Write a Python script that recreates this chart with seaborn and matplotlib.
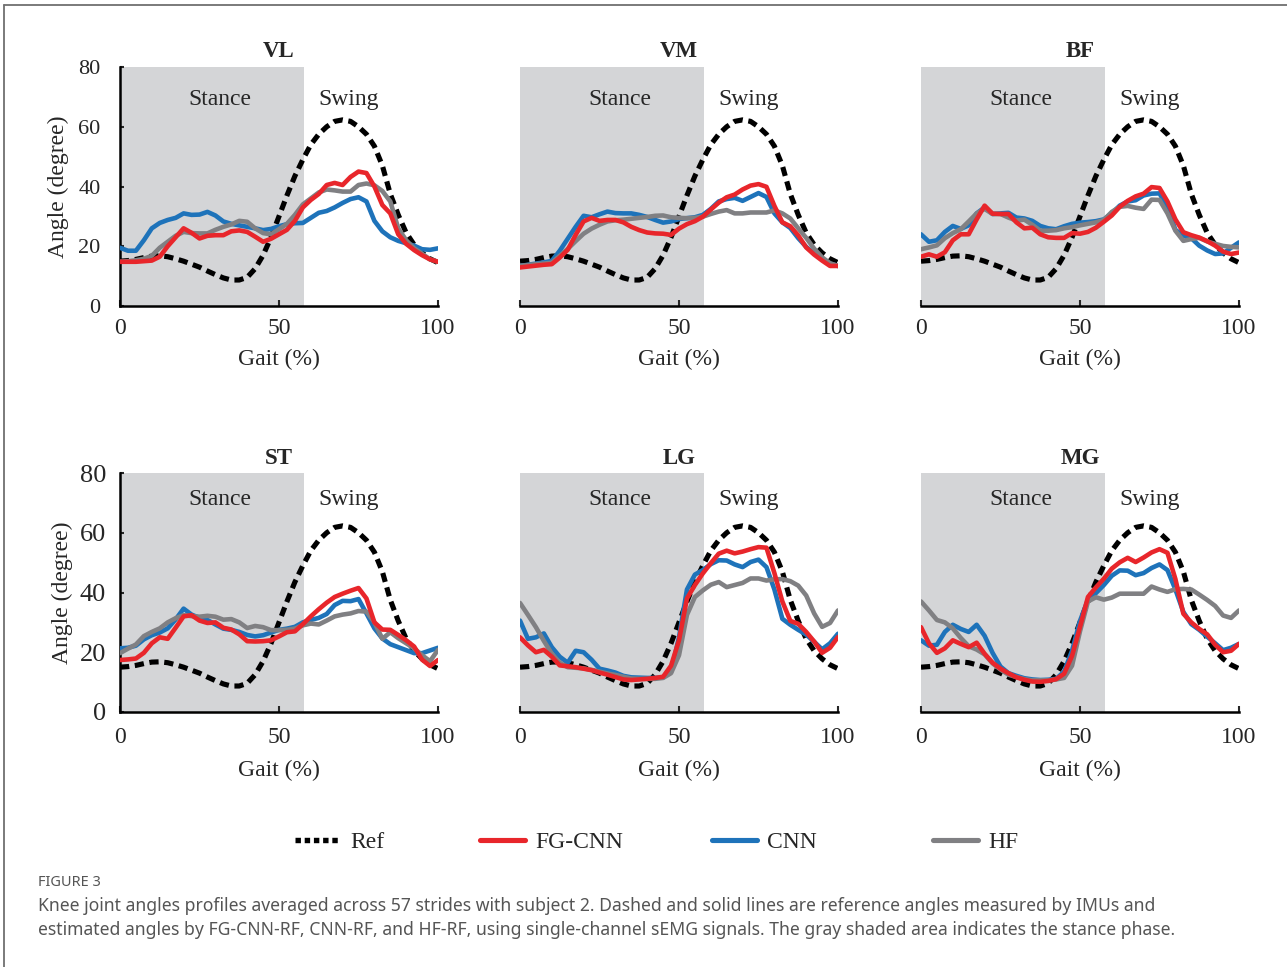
import numpy as np
import pandas as pd
import matplotlib.pyplot as plt
import seaborn as sns
from matplotlib.lines import Line2D

# ===============================
# Data
# ===============================
gait = np.arange(0, 100.1, 2.5)   # gait cycle (%)

muscles = ["VL", "VM", "BF", "ST", "LG", "MG"]

ref = [15.0, 15.2, 15.6, 16.2, 16.7, 16.8, 16.5, 15.8, 15.0, 14.0, 13.0, 11.7, 10.5, 9.4, 8.7, 8.7,
       9.6, 12.5, 17.0, 23.0, 30.0, 37.0, 43.5, 49.0, 54.0, 57.5, 60.0, 61.8, 62.3, 61.8, 60.0,
       57.5, 53.5, 47.0, 37.5, 30.5, 24.5, 20.5, 17.8, 15.8, 14.5]

vl_fg = [14.8, 14.8, 14.8, 15.0, 15.2, 16.5, 20.0, 23.0, 26.0, 24.5, 22.6, 23.5, 23.7, 23.7, 25.0, 25.3,
         24.8, 23.2, 21.5, 22.5, 24.0, 25.5, 28.5, 33.0, 35.5, 37.5, 40.5, 41.2, 40.5, 43.2, 45.0,
         44.5, 40.0, 33.8, 31.0, 24.0, 20.8, 18.7, 17.0, 15.6, 14.8]
vl_cnn = [19.5, 18.5, 18.5, 22.0, 26.0, 27.8, 28.8, 29.5, 31.0, 30.5, 30.6, 31.5, 30.3, 28.3, 27.5, 27.0,
          26.5, 26.0, 25.4, 25.8, 26.7, 27.4, 27.7, 27.8, 29.5, 31.2, 31.8, 33.0, 34.5, 35.8, 36.4,
          35.0, 28.5, 25.0, 23.0, 21.8, 21.0, 20.2, 19.0, 18.8, 19.3]
vl_hf = [14.8, 15.0, 15.3, 15.8, 16.8, 19.5, 21.5, 23.5, 24.8, 24.4, 24.3, 24.3, 25.5, 26.5, 27.3, 28.5,
         28.2, 26.0, 24.4, 24.0, 25.7, 27.5, 30.5, 34.0, 36.0, 38.0, 39.0, 38.7, 38.3, 38.3, 40.5,
         41.0, 40.4, 38.5, 35.0, 26.0, 22.0, 19.3, 17.5, 15.6, 14.8]

vm_fg = [12.9, 13.2, 13.5, 13.8, 14.0, 16.2, 18.8, 23.8, 28.3, 29.5, 28.5, 28.8, 28.8, 28.0, 26.5, 25.4,
         24.6, 24.3, 24.2, 23.8, 25.9, 27.4, 28.4, 29.9, 32.3, 34.6, 36.4, 37.3, 39.0, 40.3, 40.8,
         39.9, 33.5, 28.0, 26.7, 23.6, 19.6, 17.2, 15.2, 13.4, 13.4]
vm_cnn = [13.4, 13.8, 14.2, 14.6, 15.1, 18.5, 22.5, 26.5, 30.2, 29.7, 30.7, 31.6, 31.1, 31.0, 31.0, 30.5,
          29.8, 28.8, 27.9, 28.3, 29.1, 29.4, 29.7, 30.5, 32.5, 35.0, 35.8, 36.2, 35.2, 36.5, 37.8,
          36.5, 31.0, 28.0, 26.1, 22.7, 19.8, 17.6, 15.7, 14.2, 13.4]
vm_hf = [13.4, 13.7, 14.0, 14.2, 14.5, 16.8, 19.1, 21.7, 24.2, 25.9, 27.2, 28.3, 28.7, 28.9, 29.2, 29.5,
         29.8, 30.2, 30.3, 29.7, 29.5, 29.4, 29.5, 29.9, 30.8, 31.6, 32.1, 31.0, 31.0, 31.3, 31.3,
         31.3, 32.0, 31.0, 29.3, 26.0, 22.8, 19.2, 16.3, 14.3, 13.4]

bf_fg = [16.5, 17.3, 16.5, 18.0, 22.0, 24.0, 24.0, 29.0, 33.6, 30.9, 30.8, 30.8, 28.0, 26.0, 26.2, 24.0,
         23.0, 22.8, 22.8, 24.4, 24.2, 24.8, 26.2, 28.2, 30.3, 33.2, 35.2, 36.7, 37.6, 39.8, 39.5,
         35.0, 29.0, 24.7, 23.7, 22.9, 21.7, 20.2, 18.2, 17.4, 17.9]
bf_cnn = [24.0, 21.5, 22.0, 24.8, 26.8, 25.8, 27.0, 31.0, 33.0, 30.8, 31.0, 31.2, 29.6, 29.3, 28.5, 26.8,
          26.0, 25.7, 26.7, 27.5, 27.9, 28.1, 28.4, 29.0, 31.0, 33.6, 35.0, 35.4, 37.0, 37.6, 37.7,
          33.0, 25.5, 23.5, 22.7, 20.2, 18.6, 17.4, 17.6, 19.5, 21.3]
bf_hf = [19.0, 19.6, 20.3, 22.7, 24.4, 25.7, 28.3, 31.0, 32.5, 30.8, 30.8, 29.6, 28.6, 28.9, 27.2, 25.2,
         25.2, 25.4, 26.0, 26.4, 27.0, 27.5, 28.0, 28.8, 31.5, 33.2, 33.5, 32.9, 32.5, 35.6, 35.5,
         31.0, 25.2, 21.8, 22.4, 22.8, 21.6, 20.8, 20.1, 19.8, 19.6]

st_fg = [17.4, 17.6, 17.9, 19.8, 23.0, 25.0, 24.5, 28.2, 32.0, 32.4, 30.6, 29.8, 30.0, 28.2, 27.6, 26.0,
         23.7, 23.6, 23.7, 24.0, 25.3, 26.7, 27.0, 29.4, 32.0, 34.4, 36.6, 38.5, 39.6, 40.6, 41.5,
         38.0, 30.0, 27.6, 27.5, 25.8, 24.0, 21.9, 17.5, 15.4, 17.4]
st_cnn = [21.3, 21.5, 22.2, 24.3, 25.7, 26.6, 28.0, 31.0, 34.6, 32.6, 31.5, 30.8, 29.3, 27.9, 27.5, 26.8,
          25.8, 25.3, 25.7, 26.6, 27.5, 27.9, 28.5, 30.0, 30.8, 31.5, 32.8, 35.8, 37.2, 37.1, 37.8,
          33.0, 28.0, 24.6, 22.7, 21.7, 20.7, 19.7, 19.7, 20.6, 21.5]
st_hf = [19.7, 21.2, 22.6, 25.4, 26.8, 28.0, 30.0, 31.4, 32.4, 32.1, 31.9, 32.2, 31.9, 30.9, 31.1, 30.0,
         28.1, 28.8, 28.4, 27.4, 27.4, 27.5, 27.9, 29.0, 29.6, 29.3, 30.6, 32.0, 32.6, 33.0, 33.8,
         33.6, 30.0, 24.5, 26.7, 24.7, 23.0, 21.3, 19.0, 17.0, 20.8]

lg_fg = [25.0, 22.3, 20.0, 20.8, 18.5, 15.6, 15.3, 15.0, 14.5, 14.0, 13.2, 12.5, 11.7, 10.9, 10.7, 10.9,
         11.1, 11.4, 11.8, 15.5, 24.0, 38.0, 42.5, 46.4, 49.8, 53.0, 54.0, 53.1, 53.7, 54.5, 55.2,
         55.0, 46.5, 37.0, 30.5, 29.5, 26.8, 23.6, 19.8, 21.5, 25.1]
lg_cnn = [30.6, 24.5, 25.0, 26.3, 21.7, 18.5, 16.5, 20.5, 20.0, 17.5, 14.5, 13.9, 13.2, 12.1, 11.6, 11.5,
          11.4, 11.4, 11.6, 13.5, 25.0, 41.0, 46.0, 47.5, 49.5, 50.8, 50.7, 49.4, 48.5, 50.2, 51.0,
          48.5, 41.0, 31.2, 29.2, 27.5, 25.9, 23.5, 21.0, 23.0, 26.2]
lg_hf = [36.5, 32.5, 28.4, 23.8, 19.5, 16.5, 15.0, 14.8, 14.6, 14.1, 13.5, 12.9, 12.4, 11.8, 11.2, 11.1,
         11.1, 11.1, 11.4, 13.0, 19.0, 32.5, 38.5, 40.7, 42.6, 43.5, 41.8, 42.5, 43.2, 44.7, 44.7,
         44.0, 44.4, 44.5, 43.8, 42.3, 39.0, 33.0, 28.5, 29.8, 34.0]

mg_fg = [28.4, 23.0, 19.8, 21.3, 24.0, 22.8, 21.7, 23.2, 19.5, 16.5, 14.5, 13.0, 11.6, 10.8, 10.2, 10.1,
         10.4, 11.0, 12.8, 18.8, 28.5, 38.5, 41.7, 44.6, 48.0, 50.1, 51.6, 50.2, 51.7, 53.4, 54.5,
         53.3, 44.5, 32.9, 30.0, 27.8, 26.0, 22.5, 20.0, 20.5, 22.8]
mg_cnn = [24.0, 22.2, 22.5, 26.8, 29.2, 27.8, 26.8, 29.2, 25.5, 19.8, 15.2, 13.0, 12.1, 11.3, 10.9, 10.7,
          10.8, 11.1, 13.5, 20.5, 30.5, 37.6, 39.8, 42.5, 45.6, 47.4, 47.3, 45.8, 46.5, 48.2, 49.4,
          47.5, 41.0, 33.5, 29.4, 27.5, 25.2, 23.0, 20.7, 21.5, 22.8]
mg_hf = [37.0, 34.0, 30.8, 30.0, 28.0, 24.8, 22.0, 20.9, 19.3, 16.3, 14.2, 12.5, 11.7, 11.0, 10.6, 10.6,
         10.6, 10.9, 11.4, 15.5, 27.0, 37.0, 38.4, 37.6, 38.3, 39.6, 39.6, 39.6, 39.6, 42.0, 41.0,
         40.2, 41.1, 41.2, 41.0, 39.3, 37.5, 35.5, 32.3, 31.5, 34.0]

fg_cnn = [vl_fg, vm_fg, bf_fg, st_fg, lg_fg, mg_fg]
cnn = [vl_cnn, vm_cnn, bf_cnn, st_cnn, lg_cnn, mg_cnn]
hf = [vl_hf, vm_hf, bf_hf, st_hf, lg_hf, mg_hf]

stance_end = 58

# ===============================
# Style
# ===============================
sns.set_style("ticks")
plt.rcParams["font.family"] = ["Liberation Serif", "DejaVu Serif"]

RED = "#E8262B"
BLUE = "#1E73BA"
GRAY = "#808083"
SHADE = "#D4D5D7"
LW = 3.3
DASH = (0, (1.8, 1.1))

fig = plt.figure(figsize=(12.87, 9.67), dpi=100)

W, H = 1287, 967
lefts = [120, 520, 921]
tops = [67, 473]
aw, ah = 318, 239

for i, name in enumerate(muscles):
    r, c = divmod(i, 3)
    ax = fig.add_axes([lefts[c] / W, 1 - (tops[r] + ah) / H, aw / W, ah / H])
    ax.axvspan(0, stance_end, color=SHADE, lw=0, zorder=0)

    sns.lineplot(x=gait, y=ref, ax=ax, color="black", linewidth=LW + 0.4,
                 linestyle=DASH, zorder=3)
    sns.lineplot(x=gait, y=cnn[i], ax=ax, color=BLUE, linewidth=LW, zorder=4)
    sns.lineplot(x=gait, y=hf[i], ax=ax, color=GRAY, linewidth=LW, zorder=5)
    sns.lineplot(x=gait, y=fg_cnn[i], ax=ax, color=RED, linewidth=LW, zorder=6)
    for ln in ax.get_lines():
        ln.set_dash_capstyle("butt")
        ln.set_solid_joinstyle("round")

    ax.set_xlim(0, 100)
    ax.set_ylim(0, 80)
    ax.set_xticks([0, 50, 100])
    ax.set_facecolor("none")
    ax.tick_params(axis="x", direction="in", length=4, width=1.5, labelsize=17,
                   pad=9 if r == 0 else 11)
    ax.set_xlabel("Gait (%)", fontsize=17, labelpad=7 if r == 0 else 8)

    sns.despine(ax=ax)
    for s in ["left", "bottom"]:
        ax.spines[s].set_linewidth(1.8)
        ax.spines[s].set_color("black")

    if c == 0:
        ax.set_yticks([0, 20, 40, 60, 80])
        ax.tick_params(axis="y", direction="in", length=3, width=1.5,
                       labelsize=16 if r == 0 else 19, pad=14 if r == 0 else 10)
        ax.set_ylabel("Angle (degree)", fontsize=17, labelpad=7 if r == 0 else 5)
    else:
        ax.spines["left"].set_visible(False)
        ax.set_yticks([])
        ax.set_ylabel("")

    ty = 69 if r == 0 else 71
    ax.text(31.5, ty, "Stance", ha="center", va="center", fontsize=17)
    ax.text(72, ty, "Swing", ha="center", va="center", fontsize=17)
    ax.text(50, 85.3 if r == 0 else 84.9, name, ha="center", va="center",
            fontsize=16.5, fontweight="bold", clip_on=False)

# ===============================
# Legend (one entry per item, spaced as in the original)
# ===============================
legend_items = [
    ("Ref", Line2D([], [], color="black", lw=LW + 0.6, linestyle=(0, (1.0, 0.7)),
                   dash_capstyle="butt"), 295),
    ("FG-CNN", Line2D([], [], color=RED, lw=LW + 0.4), 480),
    ("CNN", Line2D([], [], color=BLUE, lw=LW + 0.4), 712),
    ("HF", Line2D([], [], color=GRAY, lw=LW + 0.4), 933),
]
for label, handle, x0 in legend_items:
    fig.legend([handle], [label], loc="center left", bbox_to_anchor=(x0 / W, 1 - 842 / H),
               frameon=False, fontsize=17, handlelength=1.9, handletextpad=0.45,
               borderpad=0, borderaxespad=0)

# ===============================
# Caption and frame
# ===============================
cap = dict(family=["Noto Sans", "DejaVu Sans"], color="#555555", va="center", ha="left")
fig.text(38 / W, 1 - 883 / H, "FIGURE 3", fontsize=10.5, **cap)
fig.text(38 / W, 1 - 906 / H,
         "Knee joint angles profiles averaged across 57 strides with subject 2. Dashed and solid "
         "lines are reference angles measured by IMUs and", fontsize=12.65, **cap)
fig.text(38 / W, 1 - 930 / H,
         "estimated angles by FG-CNN-RF, CNN-RF, and HF-RF, using single-channel sEMG signals. "
         "The gray shaded area indicates the stance phase.", fontsize=12.65, **cap)

fig.add_artist(Line2D([4 / W, 1], [1 - 4.5 / H, 1 - 4.5 / H], color="#707070", lw=1.3))
fig.add_artist(Line2D([4 / W, 4 / W], [0, 1 - 4.5 / H], color="#707070", lw=1.3))

fig.savefig("out.png", dpi=100)
plt.close(fig)
